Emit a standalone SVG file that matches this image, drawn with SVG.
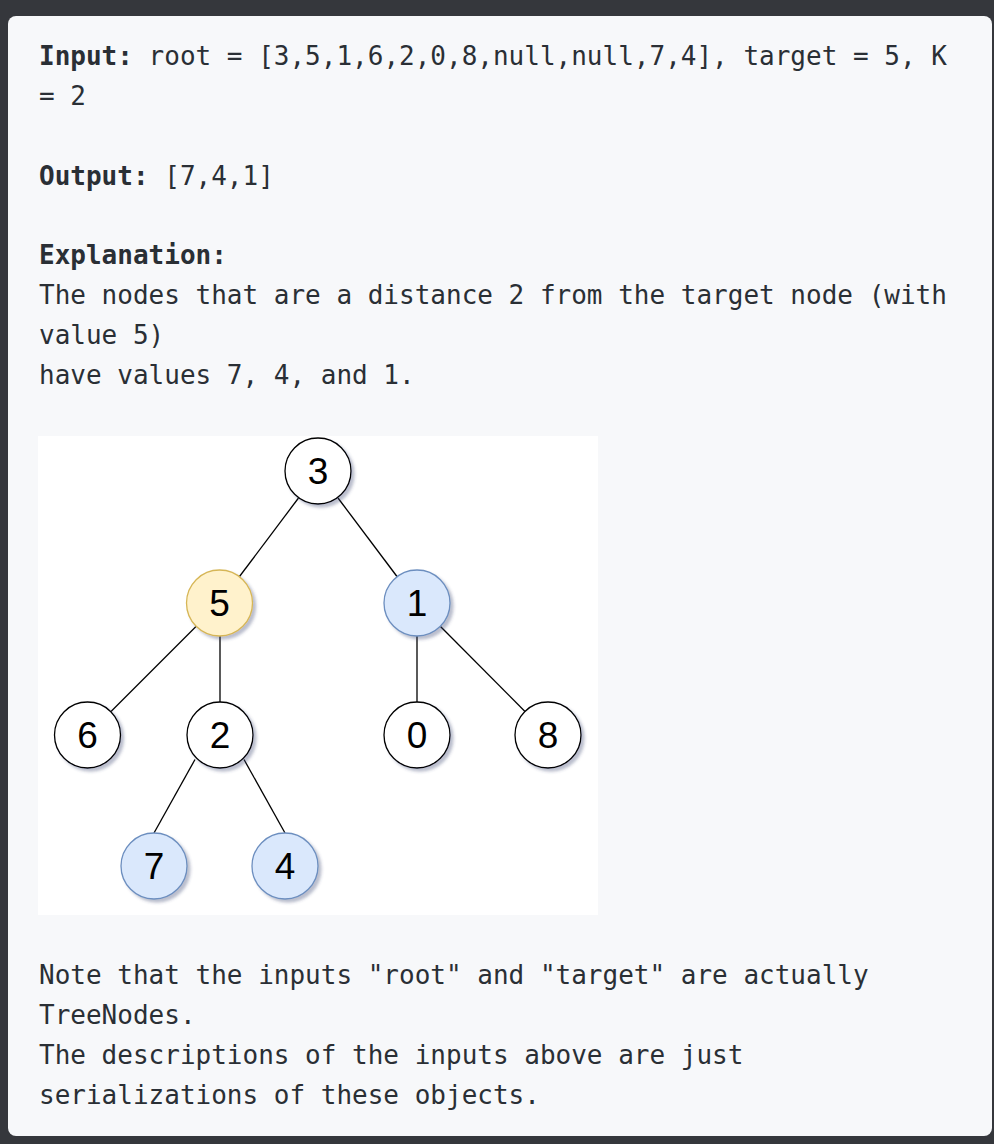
<svg xmlns="http://www.w3.org/2000/svg" width="994" height="1144" viewBox="0 0 994 1144">
<defs>
<filter id="sh" x="-30%" y="-30%" width="170%" height="170%">
<feGaussianBlur in="SourceAlpha" stdDeviation="1.6" result="b"/>
<feOffset in="b" dx="3" dy="3" result="o"/>
<feFlood flood-color="#3a4570" flood-opacity="0.35"/>
<feComposite in2="o" operator="in" result="s"/>
<feMerge><feMergeNode in="s"/><feMergeNode in="SourceGraphic"/></feMerge>
</filter>
</defs>
<style>
.t{font-family:"DejaVu Sans Mono","Liberation Mono",monospace;font-size:26px;fill:#2a2f35;}
.b{font-weight:bold;}
.n{stroke-width:1.3;filter:url(#sh);}
.w{fill:#ffffff;stroke:#000000;}
.y{fill:#fff2cc;stroke:#d6b656;}
.u{fill:#dae8fc;stroke:#6c8ebf;}
.l{font-family:"Liberation Sans",Arial,sans-serif;font-size:37px;fill:#000000;text-anchor:middle;}
.e{stroke:#000000;stroke-width:1.3;fill:none;}
</style>
<rect x="0" y="0" width="994" height="1144" fill="#35373c"/>
<rect x="8" y="16" width="984" height="1120" rx="8" fill="#f7f8fa"/>
<g id="text">
<text class="t" x="39" y="65"><tspan class="b">Input:</tspan> root = [3,5,1,6,2,0,8,null,null,7,4], target = 5, K</text>
<text class="t" x="39" y="105">= 2</text>
<text class="t" x="39" y="185"><tspan class="b">Output:</tspan> [7,4,1]</text>
<text class="t b" x="39" y="264">Explanation:</text>
<text class="t" x="39" y="304">The nodes that are a distance 2 from the target node (with</text>
<text class="t" x="39" y="344">value 5)</text>
<text class="t" x="39" y="384">have values 7, 4, and 1.</text>
<text class="t" x="39" y="984">Note that the inputs "root" and "target" are actually</text>
<text class="t" x="39" y="1024">TreeNodes.</text>
<text class="t" x="39" y="1064">The descriptions of the inputs above are just</text>
<text class="t" x="39" y="1104">serializations of these objects.</text>
</g>
<rect x="38" y="436" width="560" height="479" fill="#ffffff"/>
<g id="connectors">
<line class="e" x1="298.5" y1="498" x2="239.5" y2="576.5"/>
<line class="e" x1="338" y1="498" x2="397" y2="576.5"/>
<line class="e" x1="196" y1="626.5" x2="111" y2="711.5"/>
<line class="e" x1="220" y1="636" x2="220" y2="702"/>
<line class="e" x1="417" y1="636" x2="417" y2="702"/>
<line class="e" x1="440.5" y1="626.5" x2="525" y2="711.5"/>
<line class="e" x1="195" y1="759.5" x2="154" y2="833"/>
<line class="e" x1="244" y1="759.5" x2="285" y2="833"/>
</g>
<g id="node3"><circle class="n w" cx="318" cy="471" r="33"/><text class="l" x="318" y="484">3</text></g>
<g id="node5"><circle class="n y" cx="219.5" cy="603" r="33"/><text class="l" x="219.5" y="616">5</text></g>
<g id="node1"><circle class="n u" cx="417" cy="603" r="33"/><text class="l" x="417" y="616">1</text></g>
<g id="node6"><circle class="n w" cx="87.5" cy="735" r="33"/><text class="l" x="87.5" y="748">6</text></g>
<g id="node2"><circle class="n w" cx="220" cy="735" r="33"/><text class="l" x="220" y="748">2</text></g>
<g id="node0"><circle class="n w" cx="417" cy="735" r="33"/><text class="l" x="417" y="748">0</text></g>
<g id="node8"><circle class="n w" cx="548" cy="735" r="33"/><text class="l" x="548" y="748">8</text></g>
<g id="node7"><circle class="n u" cx="154" cy="866" r="33"/><text class="l" x="154" y="879">7</text></g>
<g id="node4"><circle class="n u" cx="285" cy="866" r="33"/><text class="l" x="285" y="879">4</text></g>
</svg>
